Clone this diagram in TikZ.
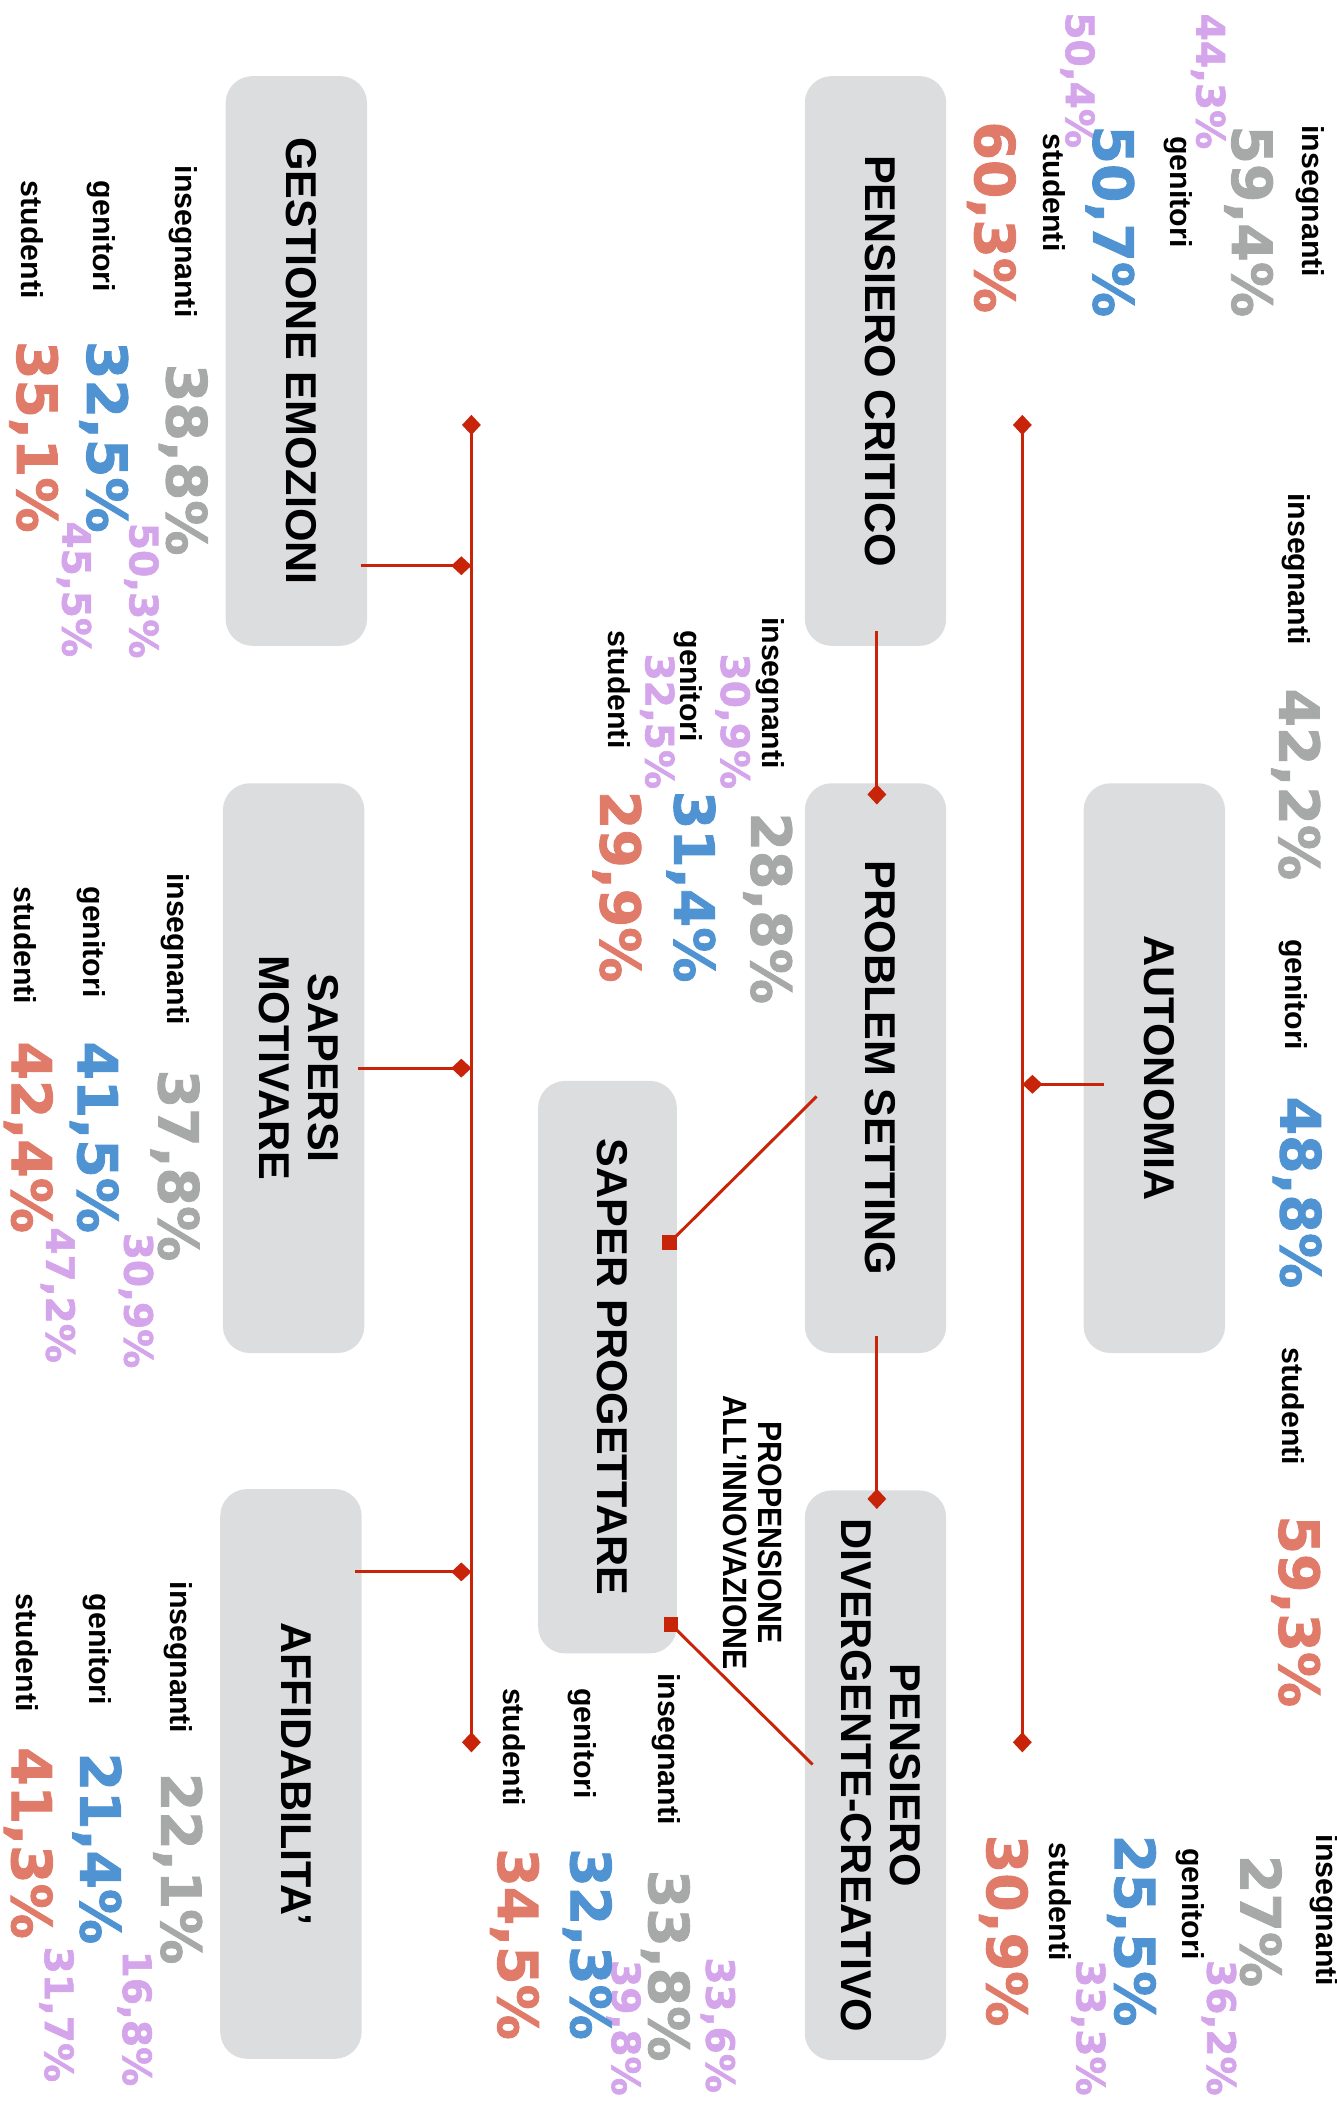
\documentclass[tikz,border=0pt]{standalone}
\usepackage{fontspec}
\setmainfont{Liberation Sans}
\newfontfamily\pctfont[BoldFeatures={FakeBold=1.6}]{DejaVu Sans}
\usetikzlibrary{arrows.meta,calc}
\definecolor{boxgray}{HTML}{DCDDDF}
\definecolor{linered}{HTML}{C8240A}
\definecolor{pgray}{HTML}{A6A9A8}
\definecolor{pblue}{HTML}{4F93D3}
\definecolor{psalmon}{HTML}{E07A69}
\definecolor{ppurple}{HTML}{D4A5EA}
\newcommand\vtext[1]{\rotatebox{-90}{\begin{tabular}{@{}c@{}}#1\end{tabular}}}
\begin{document}
\begin{tikzpicture}[x=1pt,y=-1pt,
  box/.style={rectangle, rounded corners=20pt, fill=boxgray, minimum width=105pt, minimum height=423pt, inner sep=0pt, font=\bfseries\fontsize{32}{36}\selectfont},
  conn/.style={draw=linered, line width=2.2pt},
  dia/.style={-{Diamond[length=15pt,width=14pt]}},
  lab/.style={rotate=-90, anchor=west, inner sep=0pt, font=\bfseries\fontsize{22.5}{24}\selectfont},
  pb/.style={rotate=-90, anchor=west, inner sep=0pt, font=\pctfont\bfseries\fontsize{41}{41}\selectfont},
  pg/.style={pb, text=pgray},
  pbl/.style={pb, text=pblue},
  ps/.style={pb, text=psalmon},
  pp/.style={rotate=-90, anchor=west, inner sep=0pt, text=ppurple, font=\pctfont\bfseries\fontsize{29}{29}\selectfont}
]
\useasboundingbox (0,0) rectangle (992,1568);

% boxes
\node[box] (pc) at (650,268) {\vtext{PENSIERO CRITICO}};
\node[box] (au) at (857,793) {\vtext{AUTONOMIA}};
\node[box] (pset) at (650,793) {\vtext{PROBLEM SETTING}};
\node[box] (dc) at (650,1318) {\vtext{PENSIERO\\DIVERGENTE-CREATIVO}};
\node[box, minimum width=103pt, minimum height=425pt] (sp) at (451,1015) {\vtext{SAPER PROGETTARE}};
\node[box] (ge) at (220,268) {\vtext{GESTIONE EMOZIONI}};
\node[box] (sm) at (218,793) {\vtext{SAPERSI\\MOTIVARE}};
\node[box] (af) at (216,1317) {\vtext{AFFIDABILITA’}};

\node[rotate=-90, align=center, inner sep=0pt, font=\bfseries\fontsize{25}{26}\selectfont] (inn) at (559,1138)
  {\scalebox{0.9}[1]{PROPENSIONE}\\\scalebox{0.9}[1]{ALL’INNOVAZIONE}};

% trunks
\coordinate (rt) at (759,308);
\coordinate (rb) at (759,1301);
\coordinate (lt) at (350,308);
\coordinate (lb) at (350,1301);
\draw[conn,{Diamond[length=15pt,width=14pt]}-{Diamond[length=15pt,width=14pt]}] (rt) -- (rb);
\draw[conn,{Diamond[length=15pt,width=14pt]}-{Diamond[length=15pt,width=14pt]}] (lt) -- (lb);

% branches
\coordinate (auS) at ($(au.west)+(15,12)$);
\draw[conn,dia] (auS) -- (auS -| rt);
\coordinate (geS) at ($(ge.east)+(-5,152)$);
\draw[conn,dia] (geS) -- (geS -| lt);
\coordinate (smS) at ($(sm.east)+(-5,0)$);
\draw[conn,dia] (smS) -- (smS -| lt);
\coordinate (afS) at ($(af.east)+(-5,-150)$);
\draw[conn,dia] (afS) -- (afS -| lt);

% flow
\draw[conn,dia] ($(pc.south)+(1,-11)$) -- ($(pset.north)+(1,16)$);
\draw[conn,dia] ($(pset.south)+(1,-13)$) -- ($(dc.north)+(1,14)$);
\coordinate (sq1) at ($(sp.east)+(-5.5,-92.5)$);
\coordinate (sq2) at ($(sp.east)+(-4.5,191)$);
\draw[conn] ($(pset.west)+(9,21)$) -- (sq1);
\draw[conn] (sq2) -- ($(dc.west)+(6,-8)$);
\fill[linered] ($(sq1)+(-5.5,-5.5)$) rectangle ($(sq1)+(5.5,5.5)$);
\fill[linered] ($(sq2)+(-5.5,-5.5)$) rectangle ($(sq2)+(5.5,5.5)$);

% group A (pensiero critico)
\node[pp] (a4) at (897,10) {44,3\%};
\node[pp] (a5) at (800,9) {50,4\%};
\node[lab] (a1) at (973,93) {insegnanti};
\node[pg] (a2) at (927,93) {59,4\%};
\node[lab] (a3) at (875,101) {genitori};
\node[pbl] (a6) at (824,93) {50,7\%};
\node[lab] (a7) at (783,99) {studenti};
\node[ps] (a8) at (736,90) {60,3\%};

% group B (autonomia)
\node[lab] (b1) at (962,366) {insegnanti};
\node[pg] (b2) at (962,511) {42,2\%};
\node[lab] (b3) at (960,697) {genitori};
\node[pbl] (b4) at (963,814) {48,8\%};
\node[lab] (b5) at (960,1000) {studenti};
\node[ps] (b6) at (962,1125) {59,3\%};

% group C (problem setting)
\node[pp] (c2) at (544,485) {30,9\%};
\node[pp] (c4) at (488,485) {32,5\%};
\node[lab] (c1) at (572,458) {insegnanti};
\node[lab] (c3) at (511,468) {genitori};
\node[lab] (c5) at (460,468) {studenti};
\node[pg] (c6) at (570,603) {28,8\%};
\node[pbl] (c7) at (513,587) {31,4\%};
\node[ps] (c8) at (458,587) {29,9\%};

% group D (divergente)
\node[pp] (d3) at (905,1455) {36,2\%};
\node[pp] (d6) at (808,1455) {33,3\%};
\node[lab] (d1) at (983,1362) {insegnanti};
\node[pg] (d2) at (936,1377) {27\%};
\node[lab] (d4) at (884,1372) {genitori};
\node[pbl] (d5) at (840,1362) {25,5\%};
\node[lab] (d7) at (787,1368) {studenti};
\node[ps] (d8) at (745,1362) {30,9\%};

% group E (saper progettare)
\node[pp] (e3) at (463,1455) {39,8\%};
\node[pp] (e4) at (533,1453) {33,6\%};
\node[lab] (e1) at (495,1242) {insegnanti};
\node[pg] (e2) at (494,1388) {33,8\%};
\node[lab] (e5) at (432,1253) {genitori};
\node[pbl] (e6) at (436,1372) {32,3\%};
\node[lab] (e7) at (382,1253) {studenti};
\node[ps] (e8) at (382,1372) {34,5\%};

% group F (gestione emozioni)
\node[pp] (f3) at (105,388) {50,3\%};
\node[pp] (f6) at (55,387) {45,5\%};
\node[lab] (f1) at (136,123) {insegnanti};
\node[pg] (f2) at (136,270) {38,8\%};
\node[lab] (f4) at (75,134) {genitori};
\node[pbl] (f5) at (77,253) {32,5\%};
\node[lab] (f7) at (24,134) {studenti};
\node[ps] (f8) at (25,253) {35,1\%};

% group G (sapersi motivare)
\node[pp] (g3) at (101,915) {30,9\%};
\node[pp] (g6) at (43,911) {47,2\%};
\node[lab] (g1) at (130,648) {insegnanti};
\node[pg] (g2) at (130,794) {37,8\%};
\node[lab] (g4) at (68,658) {genitori};
\node[pbl] (g5) at (70,773) {41,5\%};
\node[lab] (g7) at (19,658) {studenti};
\node[ps] (g8) at (21,773) {42,4\%};

% group H (affidabilita)
\node[pp] (h3) at (100,1448) {16,8\%};
\node[pp] (h6) at (42,1445) {31,7\%};
\node[lab] (h1) at (132,1174) {insegnanti};
\node[pg] (h2) at (132,1316) {22,1\%};
\node[lab] (h4) at (72,1183) {genitori};
\node[pbl] (h5) at (72,1301) {21,4\%};
\node[lab] (h7) at (20,1183) {studenti};
\node[ps] (h8) at (21,1297) {41,3\%};
\end{tikzpicture}
\end{document}
